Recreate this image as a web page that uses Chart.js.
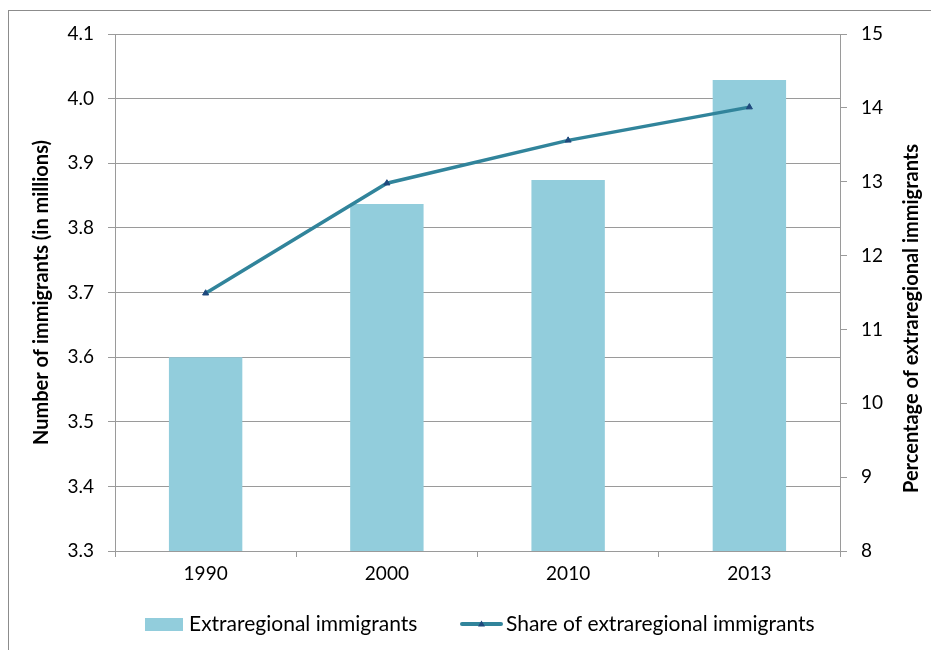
<!DOCTYPE html>
<html>
<head>
<meta charset="utf-8">
<script src="https://cdn.jsdelivr.net/npm/chart.js@4.4.1/dist/chart.umd.min.js"></script>
<style>
  html, body { margin: 0; padding: 0; background: #fff; }
  #wrap { position: relative; width: 931px; height: 650px; }
</style>
</head>
<body>
<div id="wrap"><canvas id="chart" width="931" height="650"></canvas></div>
<script>
    "use strict";

    // data
    const years = ["1990", "2000", "2010", "2013"];
    const immigrants = [3.60, 3.837, 3.874, 4.029];      // millions, left axis
    const sharePct = [11.49, 12.98, 13.56, 14.01];      // %, right axis
    const leftTicks = [3.3, 4.1, 0.1];                   // min, max, step
    const rightTicks = [8, 15, 1];

    const barLabel = "Extraregional immigrants";
    const lineLabel = "Share of extraregional immigrants";
    const leftTitle = "Number of immigrants (in millions)";
    const rightTitle = "Percentage of extraregional immigrants";

    const FONT = "Lato, 'Open Sans', sans-serif";
    const barColor = "#92cddc";
    const lineColor = "#31849b";
    const markColor = "#1f497d";
    const gridColor = "#9a9a9a";

    // outer frame + right title (reads bottom-to-top) + legend
    const extras = {
        id: 'extras',
        beforeDraw(chart) {
            const c = chart.ctx;
            c.save();
            c.strokeStyle = "#8c8c8c";
            c.lineWidth = 1;
            c.strokeRect(8.5, 10.5, 1000, 1000);
            c.restore();
        },
        afterDraw(chart) {
            const c = chart.ctx;
            const area = chart.chartArea;
            c.save();
            c.fillStyle = "#000";
            c.font = "bold 20px " + FONT;
            c.textAlign = "center";
            c.textBaseline = "middle";
            c.translate(912, (area.top + area.bottom) / 2 + 26);
            c.rotate(-Math.PI / 2);
            c.fillText(rightTitle, 0, 0);
            c.restore();

            // legend
            const y = 624;
            c.save();
            c.font = "21px " + FONT;
            c.textBaseline = "middle";
            c.textAlign = "left";
            c.fillStyle = barColor;
            c.fillRect(145, y - 6, 38, 13);
            c.fillStyle = "#000";
            c.fillText(barLabel, 189, y);
            c.strokeStyle = lineColor;
            c.lineWidth = 4;
            c.lineCap = "round";
            c.beginPath();
            c.moveTo(462, y);
            c.lineTo(501, y);
            c.stroke();
            c.fillStyle = markColor;
            c.beginPath();
            c.moveTo(481.5, y - 3.5);
            c.lineTo(485, y + 2.5);
            c.lineTo(478, y + 2.5);
            c.closePath();
            c.fill();
            c.fillStyle = "#000";
            c.fillText(lineLabel, 506, y);
            c.restore();
        }
    };

    new Chart(document.getElementById('chart'), {
        data: {
            labels: years,
            datasets: [
                {
                    type: 'line',
                    label: lineLabel,
                    data: sharePct,
                    yAxisID: 'y2',
                    borderColor: lineColor,
                    borderWidth: 3.5,
                    pointStyle: 'triangle',
                    pointRadius: 3.5,
                    pointBackgroundColor: markColor,
                    pointBorderColor: markColor,
                    pointBorderWidth: 1,
                    tension: 0,
                    order: 0
                },
                {
                    type: 'bar',
                    label: barLabel,
                    data: immigrants,
                    yAxisID: 'y',
                    backgroundColor: barColor,
                    barPercentage: 0.405,
                    categoryPercentage: 1,
                    order: 1
                }
            ]
        },
        options: {
            responsive: false,
            animation: false,
            devicePixelRatio: 1,
            layout: { padding: { top: 34, left: 0, right: 0, bottom: 0 } },
            plugins: { legend: { display: false }, tooltip: { enabled: false } },
            scales: {
                x: {
                    offset: true,
                    afterFit: (s) => { s.height = 99; },
                    grid: { offset: true, drawOnChartArea: false, color: gridColor, tickLength: 6 },
                    border: { color: gridColor },
                    ticks: { color: "#000", font: { family: FONT, size: 19 }, padding: 5, maxRotation: 0 }
                },
                y: {
                    position: 'left',
                    min: leftTicks[0],
                    max: leftTicks[1],
                    afterFit: (s) => { s.width = 115; },
                    grid: { color: gridColor, tickLength: 7 },
                    border: { color: gridColor },
                    ticks: {
                        stepSize: leftTicks[2],
                        color: "#000",
                        font: { family: FONT, size: 19 },
                        padding: 14,
                        callback: (v) => Number(v).toFixed(1)
                    },
                    title: {
                        display: true,
                        text: leftTitle,
                        color: "#000",
                        font: { family: FONT, size: 20, weight: 'bold' },
                        padding: { top: 30, bottom: 0 }
                    }
                },
                y2: {
                    position: 'right',
                    min: rightTicks[0],
                    max: rightTicks[1],
                    afterFit: (s) => { s.width = 91; },
                    grid: { drawOnChartArea: false, color: gridColor, tickLength: 7 },
                    border: { color: gridColor },
                    ticks: {
                        stepSize: rightTicks[2],
                        color: "#000",
                        font: { family: FONT, size: 19 },
                        padding: 14
                    }
                }
            }
        },
        plugins: [extras]
    });
</script>
</body>
</html>
